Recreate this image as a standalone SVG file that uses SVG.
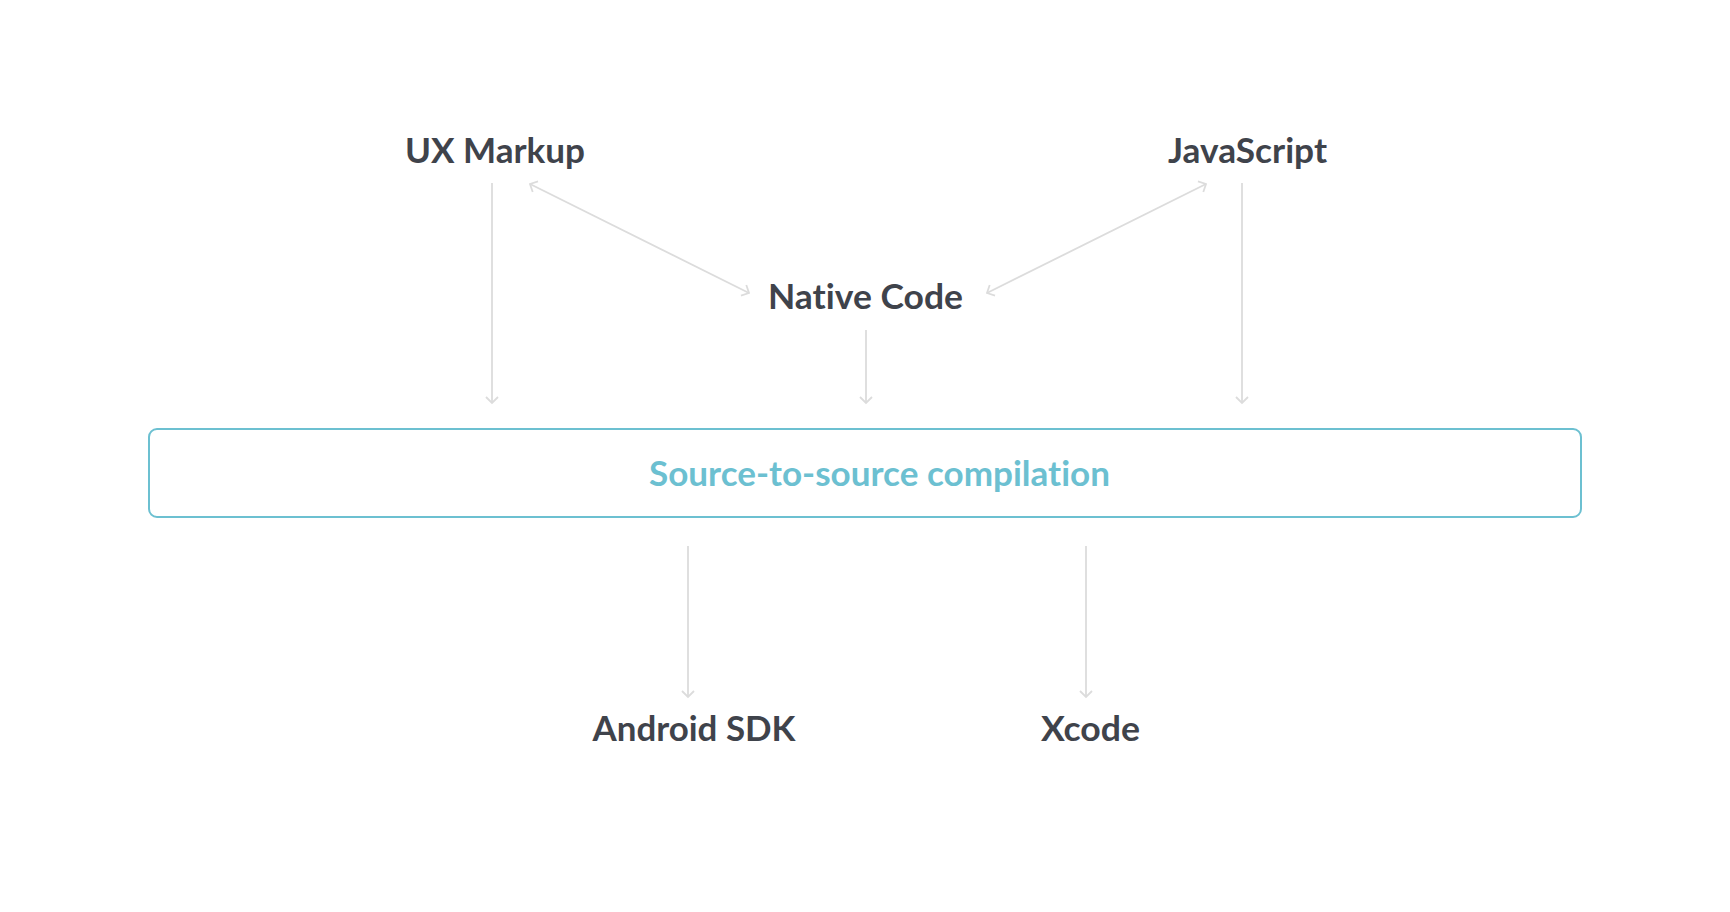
<svg xmlns="http://www.w3.org/2000/svg" width="1730" height="912" viewBox="0 0 1730 912">
  <style>
    .lbl { font-family: Lato, "Noto Sans", "Liberation Sans", sans-serif; font-weight: 700; font-size: 34px; fill: #3f434b; text-anchor: middle; font-variant-ligatures: none; }
    .box-lbl { fill: #6cc0d1; }
    .box { fill: #ffffff; stroke: #6cc0d1; stroke-width: 2; }
    .conn { stroke: #dcdcdc; stroke-width: 1.8; fill: none; marker-end: url(#arrow); }
    .conn2 { marker-start: url(#arrow); }
  </style>
  <defs>
    <marker id="arrow" markerUnits="userSpaceOnUse" markerWidth="20" markerHeight="20" viewBox="-10 -10 20 20" refX="0" refY="0" orient="auto-start-reverse" overflow="visible">
      <path d="M-6,-6 L0,0 L-6,6" fill="none" stroke="#dcdcdc" stroke-width="1.8"/>
    </marker>
  </defs>
  <rect width="1730" height="912" fill="#ffffff"/>

  <g id="connectors">
    <line class="conn" x1="492" y1="183" x2="492" y2="403"/>
    <line class="conn" x1="866" y1="330" x2="866" y2="403"/>
    <line class="conn" x1="1242" y1="183" x2="1242" y2="403"/>
    <line class="conn conn2" x1="530" y1="184" x2="749" y2="293"/>
    <line class="conn conn2" x1="1206" y1="184" x2="987" y2="293"/>
    <line class="conn" x1="688" y1="546" x2="688" y2="697"/>
    <line class="conn" x1="1086" y1="546" x2="1086" y2="697"/>
  </g>

  <g id="ux-markup">
    <text class="lbl" x="495" y="163" textLength="180" lengthAdjust="spacingAndGlyphs">UX Markup</text>
  </g>
  <g id="javascript">
    <text class="lbl" x="1247.5" y="163" textLength="159" lengthAdjust="spacingAndGlyphs">JavaScript</text>
  </g>
  <g id="native-code">
    <text class="lbl" x="865.5" y="309" textLength="195" lengthAdjust="spacingAndGlyphs">Native Code</text>
  </g>
  <g id="compilation">
    <rect class="box" x="149" y="429" width="1432" height="88" rx="8" ry="8"/>
    <text class="lbl box-lbl" x="879.5" y="486" textLength="461" lengthAdjust="spacingAndGlyphs">Source-to-source compilation</text>
  </g>
  <g id="android-sdk">
    <text class="lbl" x="694" y="741" textLength="203" lengthAdjust="spacingAndGlyphs">Android SDK</text>
  </g>
  <g id="xcode">
    <text class="lbl" x="1090.5" y="741" textLength="99" lengthAdjust="spacingAndGlyphs">Xcode</text>
  </g>
</svg>
